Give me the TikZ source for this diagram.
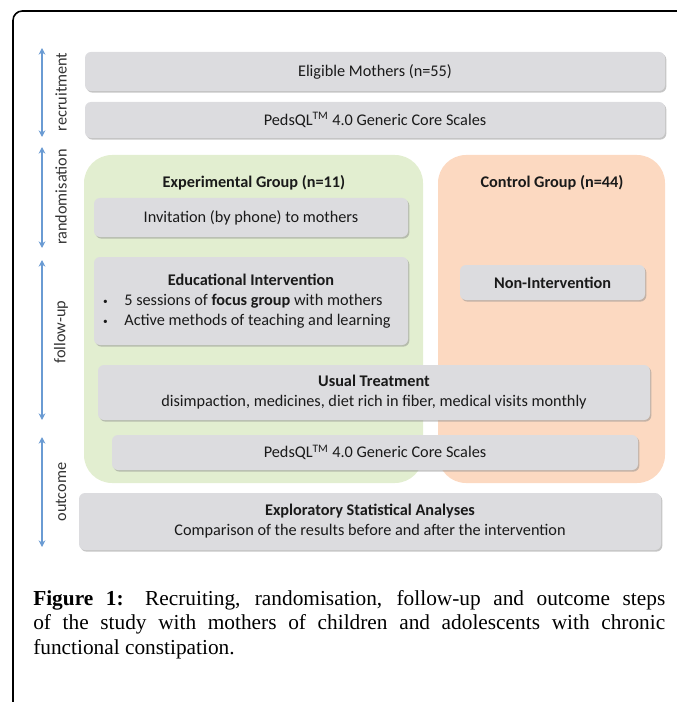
\documentclass[tikz,border=0pt]{standalone}
\usepackage{fontspec}
\setmainfont{Liberation Serif}
\newfontfamily\boxfont{Carlito}
\usetikzlibrary{arrows.meta,shadows}
\definecolor{boxgray}{HTML}{DCDCDF}
\definecolor{grpgreen}{HTML}{E2EED0}
\definecolor{grporange}{HTML}{FCD9C1}
\definecolor{arrblue}{HTML}{6A9BD3}
\definecolor{txtdark}{HTML}{1A1A1A}
\begin{document}
\begin{tikzpicture}[x=0.75pt,y=-0.75pt,
  gbox/.style={rounded corners=4.5pt, fill=boxgray, draw=none, inner sep=2pt,
    text=txtdark, align=center, font=\boxfont\fontsize{12.2}{15}\selectfont,
    drop shadow={shadow xshift=1pt, shadow yshift=-1.2pt, fill=black!45, opacity=0.5}},
  grp/.style={rounded corners=21pt, draw=none},
  grptitle/.style={text=txtdark, font=\boxfont\bfseries\fontsize{12.2}{15}\selectfont},
  phase/.style={draw=arrblue, line width=1.6pt, {Stealth[length=5pt,width=5pt]}-{Stealth[length=5pt,width=5pt]}},
  phaselabel/.style={rotate=90, text=black!80, font=\boxfont\fontsize{12.2}{14}\selectfont, inner sep=0pt}
]
\useasboundingbox (0,0) rectangle (677,702);
% frame
\draw[line width=1.2pt, rounded corners=7pt] (13,703) -- (13,11) -- (678,11);

% phase arrows
\coordinate (r1) at (42,48);  \coordinate (r2) at (42,137);
\coordinate (d1) at (42,147); \coordinate (d2) at (42,248);
\coordinate (f1) at (42,260); \coordinate (f2) at (42,420);
\coordinate (o1) at (42,437); \coordinate (o2) at (42,547);
\draw[phase] (r1) -- (r2);
\draw[phase] (d1) -- (d2);
\draw[phase] (f1) -- (f2);
\draw[phase] (o1) -- (o2);
\node[phaselabel] (lr) at (61,92) {recruitment};
\node[phaselabel] (ld) at (61,197) {randomisation};
\node[phaselabel] (lf) at (61,332) {follow-up};
\node[phaselabel] (lo) at (61,492) {outcome};

% group panels
\node[grp, fill=grpgreen, minimum width=254.25pt, minimum height=246pt] (exp) at (253.5,319) {};
\node[grp, fill=grporange, minimum width=170.25pt, minimum height=246pt] (ctl) at (551.5,319) {};
\node[grptitle] (expt) at (254,183) {Experimental Group (n=11)};
\node[grptitle] (ctlt) at (552,183) {Control Group (n=44)};

% boxes
\node[gbox, minimum width=435pt, minimum height=29.25pt] (elig) at (375,71.5) {Eligible Mothers (n=55)};
\node[gbox, minimum width=435pt, minimum height=27pt] (peds1) at (375,120) {PedsQL\textsuperscript{TM} 4.0 Generic Core Scales};
\node[gbox, minimum width=235.5pt, minimum height=29.25pt] (inv) at (251,217.5) {Invitation (by phone) to mothers};
\node[gbox, minimum width=235.5pt, minimum height=66pt, align=left] (edu) at (251,301) {%
  \makebox[222pt][c]{\bfseries Educational Intervention}\\
  \makebox[16pt][l]{\raisebox{0.15ex}{\scriptsize\textbullet}}5 sessions of \textbf{focus group} with mothers\\
  \makebox[16pt][l]{\raisebox{0.15ex}{\scriptsize\textbullet}}Active methods of teaching and learning};
\node[gbox, minimum width=138.75pt, minimum height=26.25pt] (non) at (552.5,282.5) {\bfseries Non-Intervention};
\node[gbox, minimum width=414pt, minimum height=41.25pt] (usual) at (374,392.5) {\textbf{Usual Treatment}\\disimpaction, medicines, diet rich in fiber, medical visits monthly};
\node[gbox, minimum width=394.5pt, minimum height=26.25pt] (peds2) at (375,452.5) {PedsQL\textsuperscript{TM} 4.0 Generic Core Scales};
\node[gbox, minimum width=436.5pt, minimum height=42.75pt] (expl) at (370,521.5) {\textbf{Exploratory Statistical Analyses}\\Comparison of the results before and after the intervention};

% caption
\node[anchor=north west, inner sep=0pt, text width=474pt, align=justify,
  font=\fontsize{16}{18.5}\selectfont] (cap) at (33,590)
  {\textbf{Figure 1:} Recruiting, randomisation, follow-up and outcome steps\linebreak
   of the study with mothers of children and adolescents with chronic\linebreak
   functional constipation.};
\end{tikzpicture}
\end{document}
